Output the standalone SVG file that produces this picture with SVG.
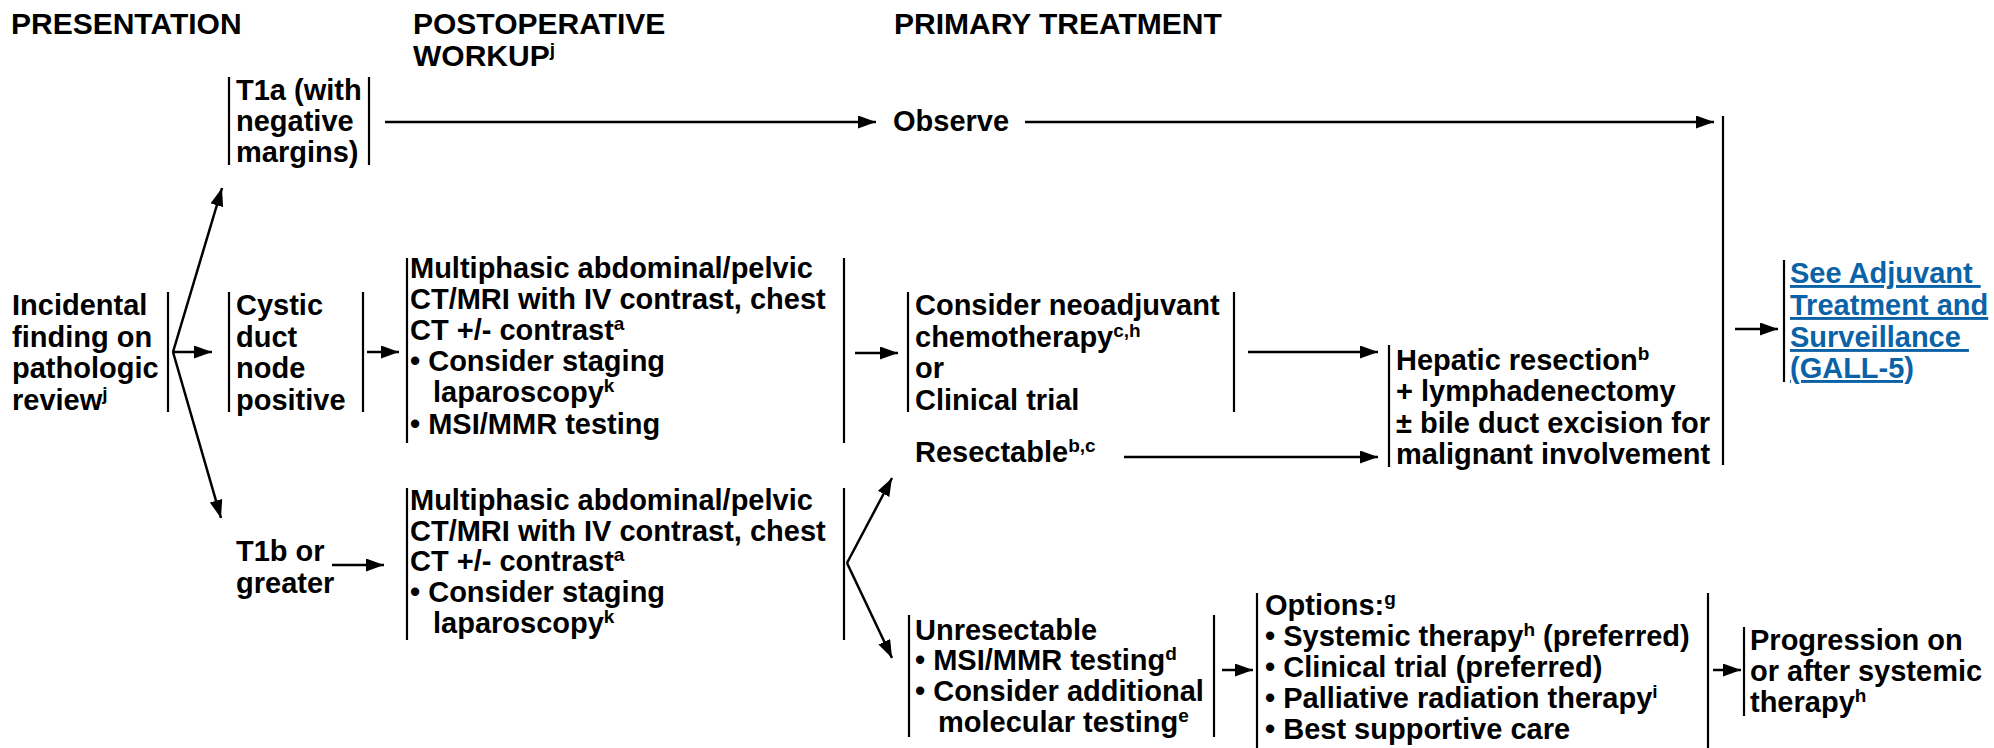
<svg xmlns="http://www.w3.org/2000/svg" width="1994" height="748" viewBox="0 0 1994 748">
<defs>
<marker id="ah" markerUnits="userSpaceOnUse" markerWidth="18" markerHeight="13" refX="18" refY="6.5" orient="auto">
<path d="M0,0 L18,6.5 L0,13 z" fill="#000"/>
</marker>
<style>
text { font-family: "Liberation Sans", Arial, Helvetica, sans-serif; font-weight: bold; font-size: 29px; fill: #000; }
.hdr { font-size: 30px; }
.sup { font-size: 19px; }
.bar { stroke: #000; stroke-width: 2.2; fill: none; }
.conn { stroke: #000; stroke-width: 2.5; fill: none; marker-end: url(#ah); }
.link { fill: #0b62a6; text-decoration: underline; }
.linkbar { stroke: #000; stroke-width: 2.2; }
</style>
</defs>
<rect width="1994" height="748" fill="#fff"/>

<g id="headers">
<text class="hdr" x="11" y="34">PRESENTATION</text>
<text class="hdr" x="413" y="34">POSTOPERATIVE</text>
<text class="hdr" x="413" y="66">WORKUP<tspan class="sup" dy="-10">j</tspan></text>
<text class="hdr" x="894" y="34">PRIMARY TREATMENT</text>
</g>

<g id="n-incidental">
<text><tspan x="12" y="315">Incidental</tspan><tspan x="12" y="347">finding on</tspan><tspan x="12" y="378">pathologic</tspan><tspan x="12" y="410">review</tspan><tspan class="sup" dy="-10">j</tspan></text>
<line class="bar" x1="168" y1="292" x2="168" y2="412"/>
</g>

<g id="n-t1a">
<line class="bar" x1="229" y1="77" x2="229" y2="165"/>
<text><tspan x="236" y="100">T1a (with</tspan><tspan x="236" y="131">negative</tspan><tspan x="236" y="162">margins)</tspan></text>
<line class="bar" x1="369" y1="77" x2="369" y2="165"/>
</g>

<g id="n-cystic">
<line class="bar" x1="229" y1="292" x2="229" y2="412"/>
<text><tspan x="236" y="315">Cystic</tspan><tspan x="236" y="347">duct</tspan><tspan x="236" y="378">node</tspan><tspan x="236" y="410">positive</tspan></text>
<line class="bar" x1="363" y1="292" x2="363" y2="412"/>
</g>

<g id="n-t1b">
<text><tspan x="236" y="561">T1b or</tspan><tspan x="236" y="593">greater</tspan></text>
</g>

<g id="n-workup1">
<line class="bar" x1="407" y1="258" x2="407" y2="443"/>
<text><tspan x="410" y="278">Multiphasic abdominal/pelvic</tspan><tspan x="410" y="309">CT/MRI with IV contrast, chest</tspan><tspan x="410" y="340">CT +/- contrast</tspan><tspan class="sup" dy="-10">a</tspan><tspan x="410" y="371">• Consider staging</tspan><tspan x="433" y="402">laparoscopy</tspan><tspan class="sup" dy="-10">k</tspan><tspan x="410" y="434">• MSI/MMR testing</tspan></text>
<line class="bar" x1="844" y1="258" x2="844" y2="443"/>
</g>

<g id="n-workup2">
<line class="bar" x1="407" y1="488" x2="407" y2="640"/>
<text><tspan x="410" y="510">Multiphasic abdominal/pelvic</tspan><tspan x="410" y="541">CT/MRI with IV contrast, chest</tspan><tspan x="410" y="571">CT +/- contrast</tspan><tspan class="sup" dy="-10">a</tspan><tspan x="410" y="602">• Consider staging</tspan><tspan x="433" y="633">laparoscopy</tspan><tspan class="sup" dy="-10">k</tspan></text>
<line class="bar" x1="844" y1="488" x2="844" y2="640"/>
</g>

<g id="n-observe">
<text x="893" y="131">Observe</text>
</g>

<g id="n-neoadjuvant">
<line class="bar" x1="908" y1="292" x2="908" y2="412"/>
<text><tspan x="915" y="315">Consider neoadjuvant</tspan><tspan x="915" y="347">chemotherapy</tspan><tspan class="sup" dy="-10">c,h</tspan><tspan x="915" y="378">or</tspan><tspan x="915" y="410">Clinical trial</tspan></text>
<line class="bar" x1="1234" y1="292" x2="1234" y2="412"/>
</g>

<g id="n-resectable">
<text x="915" y="462">Resectable<tspan class="sup" dy="-10">b,c</tspan></text>
</g>

<g id="n-unresectable">
<line class="bar" x1="909" y1="615" x2="909" y2="737"/>
<text><tspan x="915" y="640">Unresectable</tspan><tspan x="915" y="670">• MSI/MMR testing</tspan><tspan class="sup" dy="-10">d</tspan><tspan x="915" y="701">• Consider additional</tspan><tspan x="938" y="732">molecular testing</tspan><tspan class="sup" dy="-10">e</tspan></text>
<line class="bar" x1="1214" y1="615" x2="1214" y2="737"/>
</g>

<g id="n-hepatic">
<line class="bar" x1="1389" y1="345" x2="1389" y2="467"/>
<text><tspan x="1396" y="370">Hepatic resection</tspan><tspan class="sup" dy="-10">b</tspan><tspan x="1396" y="401">+ lymphadenectomy</tspan><tspan x="1396" y="433">± bile duct excision for</tspan><tspan x="1396" y="464">malignant involvement</tspan></text>
</g>

<g id="n-merge">
<line class="bar" x1="1723" y1="116" x2="1723" y2="465"/>
</g>

<g id="n-adjuvant">
<line class="linkbar" x1="1784" y1="260" x2="1784" y2="382"/>
<text class="link"><tspan x="1790" y="283">See Adjuvant&#160;</tspan><tspan x="1790" y="315">Treatment and</tspan><tspan x="1790" y="347">Surveillance&#160;</tspan><tspan x="1790" y="378">(GALL-5)</tspan></text>
</g>

<g id="n-options">
<line class="bar" x1="1257" y1="593" x2="1257" y2="748"/>
<text><tspan x="1265" y="615">Options:</tspan><tspan class="sup" dy="-10">g</tspan><tspan x="1265" y="646">• Systemic therapy</tspan><tspan class="sup" dy="-10">h</tspan><tspan dy="10"> (preferred)</tspan><tspan x="1265" y="677">• Clinical trial (preferred)</tspan><tspan x="1265" y="708">• Palliative radiation therapy</tspan><tspan class="sup" dy="-10">i</tspan><tspan x="1265" y="739">• Best supportive care</tspan></text>
<line class="bar" x1="1708" y1="593" x2="1708" y2="748"/>
</g>

<g id="n-progression">
<line class="bar" x1="1744" y1="627" x2="1744" y2="716"/>
<text><tspan x="1750" y="650">Progression on</tspan><tspan x="1750" y="681">or after systemic</tspan><tspan x="1750" y="712">therapy</tspan><tspan class="sup" dy="-10">h</tspan></text>
</g>

<g id="connectors">
<path class="conn" d="M173,352 L222,188"/>
<path class="conn" d="M173,352 L212,352"/>
<path class="conn" d="M173,352 L221,518"/>
<path class="conn" d="M385,122 L876,122"/>
<path class="conn" d="M1025,122 L1714,122"/>
<path class="conn" d="M367,352 L399,352"/>
<path class="conn" d="M332,565 L384,565"/>
<path class="conn" d="M855,353 L898,353"/>
<path class="conn" d="M847,563 L892,478"/>
<path class="conn" d="M847,563 L892,658"/>
<path class="conn" d="M1248,352 L1378,352"/>
<path class="conn" d="M1124,457 L1378,457"/>
<path class="conn" d="M1735,329 L1778,329"/>
<path class="conn" d="M1222,670 L1253,670"/>
<path class="conn" d="M1713,670 L1741,670"/>
</g>
</svg>
